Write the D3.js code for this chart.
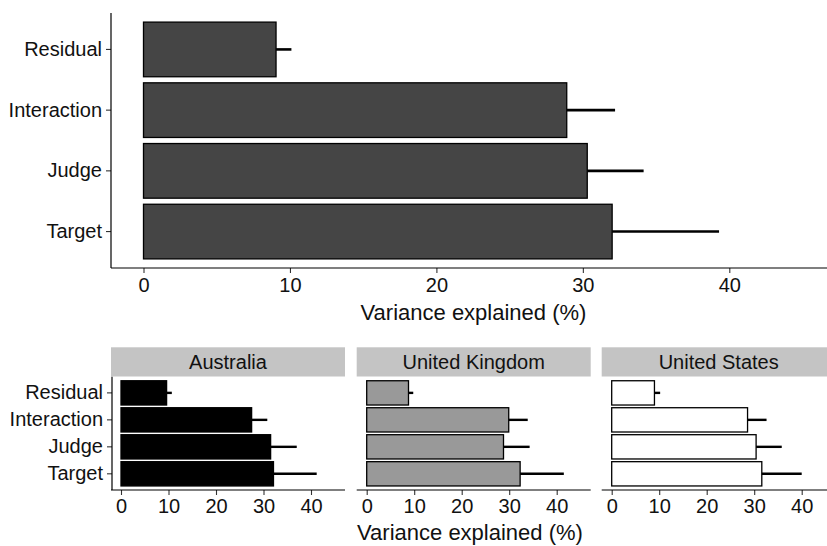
<!DOCTYPE html>
<html>
<head>
<meta charset="utf-8">
<script src="https://cdn.jsdelivr.net/npm/d3@7"></script>
<style>
  body { margin: 0; background: #fff; }
  svg { display: block; font-family: "Liberation Sans", Arial, sans-serif; }
</style>
</head>
<body>
<svg id="chart" width="827" height="546"></svg>
<script>
// ---- data ----
const categories = ["Residual", "Interaction", "Judge", "Target"];
const xTicks = [0, 10, 20, 30, 40];
const axisTitle = "Variance explained (%)";

const overallMean  = [9.05, 28.9, 30.3, 32.0];
const overallUpper = [10.1, 32.2, 34.15, 39.3];

const countries = ["Australia", "United Kingdom", "United States"];
const australiaMean  = [9.6, 27.5, 31.5, 32.1];
const australiaUpper = [10.7, 30.8, 37.0, 41.2];
const ukMean  = [8.8, 29.9, 28.8, 32.3];
const ukUpper = [9.8, 33.9, 34.3, 41.5];
const usMean  = [9.0, 28.6, 30.4, 31.6];
const usUpper = [10.2, 32.6, 35.8, 40.0];

const countryFills = ["#000000", "#999999", "#ffffff"];

// ---- drawing ----
const svg = d3.select("#chart");
const W = 827;
const textCol = "#111111";
const labelSize = 20;

function toRows(means, uppers) {
  return categories.map((c, i) => ({ cat: c, mean: means[i], upper: uppers[i] }));
}

// ===== top panel =====
const mainBox = { left: 111, right: 827, top: 13, bottom: 268 };
const xTop = d3.scaleLinear().domain([0, 40]).range([143.5, 729.3]);
const yTop = d3.scaleBand().domain(categories).range([mainBox.top, mainBox.bottom])
  .paddingInner(0.1).paddingOuter(0.15);

const gTop = svg.append("g");
const topRows = toRows(overallMean, overallUpper);

gTop.selectAll("rect.bar").data(topRows).join("rect")
  .attr("x", xTop(0))
  .attr("y", d => yTop(d.cat))
  .attr("width", d => xTop(d.mean) - xTop(0))
  .attr("height", yTop.bandwidth())
  .attr("fill", "#454545")
  .attr("stroke", "#000").attr("stroke-width", 1.3);

gTop.selectAll("line.err").data(topRows).join("line")
  .attr("x1", d => xTop(d.mean)).attr("x2", d => xTop(d.upper))
  .attr("y1", d => yTop(d.cat) + yTop.bandwidth() / 2)
  .attr("y2", d => yTop(d.cat) + yTop.bandwidth() / 2)
  .attr("stroke", "#000").attr("stroke-width", 2.6);

const xAxisTop = gTop.append("g").attr("transform", `translate(0,${mainBox.bottom})`)
  .call(d3.axisBottom(xTop).tickValues(xTicks).tickSize(5).tickPadding(5));
xAxisTop.select(".domain").remove();
xAxisTop.selectAll("line").attr("stroke", "#333").attr("stroke-width", 1.1);
xAxisTop.selectAll("text").attr("font-size", labelSize).attr("fill", textCol).attr("font-family", null);

gTop.append("line").attr("x1", mainBox.left).attr("x2", mainBox.right)
  .attr("y1", mainBox.bottom).attr("y2", mainBox.bottom).attr("stroke", "#000").attr("stroke-width", 1.2);

const yAxisTop = gTop.append("g").attr("transform", `translate(${mainBox.left},0)`)
  .call(d3.axisLeft(yTop).tickSize(5).tickPadding(4));
yAxisTop.select(".domain").remove();
yAxisTop.selectAll("line").attr("stroke", "#333").attr("stroke-width", 1.1);
yAxisTop.selectAll("text").attr("font-size", labelSize).attr("fill", textCol).attr("font-family", null);

gTop.append("line").attr("x1", mainBox.left).attr("x2", mainBox.left)
  .attr("y1", mainBox.top).attr("y2", mainBox.bottom).attr("stroke", "#000").attr("stroke-width", 1.2);

gTop.append("text").attr("x", 473.5).attr("y", 320).attr("text-anchor", "middle")
  .attr("font-size", 22).attr("fill", textCol).text(axisTitle);

// ===== bottom facets =====
const panelLefts = [111, 356.7, 601.7];
const panelW = 234;
const stripTop = 347.3, stripBottom = 376.5;
const pTop = 376.7, pBottom = 490;
const yBot = d3.scaleBand().domain(categories).range([pTop, pBottom])
  .paddingInner(0.1).paddingOuter(0.15);

const facetData = [
  toRows(australiaMean, australiaUpper),
  toRows(ukMean, ukUpper),
  toRows(usMean, usUpper)
];

countries.forEach((name, k) => {
  const L = panelLefts[k];
  const R = Math.min(L + panelW, W);
  const x = d3.scaleLinear().domain([0, 40]).range([L + 10, L + 10 + 190]);
  const g = svg.append("g");

  g.append("rect").attr("x", L).attr("y", stripTop)
    .attr("width", R - L).attr("height", stripBottom - stripTop)
    .attr("fill", "#c4c4c4");
  g.append("text").attr("x", (L + L + panelW) / 2).attr("y", (stripTop + stripBottom) / 2)
    .attr("dy", "0.35em").attr("text-anchor", "middle")
    .attr("font-size", labelSize).attr("fill", textCol).text(name);

  const rows = facetData[k];
  g.selectAll("rect.bar").data(rows).join("rect")
    .attr("x", x(0))
    .attr("y", d => yBot(d.cat))
    .attr("width", d => x(d.mean) - x(0))
    .attr("height", yBot.bandwidth())
    .attr("fill", countryFills[k])
    .attr("stroke", "#000").attr("stroke-width", 1.3);

  g.selectAll("line.err").data(rows).join("line")
    .attr("x1", d => x(d.mean)).attr("x2", d => x(d.upper))
    .attr("y1", d => yBot(d.cat) + yBot.bandwidth() / 2)
    .attr("y2", d => yBot(d.cat) + yBot.bandwidth() / 2)
    .attr("stroke", "#000").attr("stroke-width", 2.4);

  const xa = g.append("g").attr("transform", `translate(0,${pBottom})`)
    .call(d3.axisBottom(x).tickValues(xTicks).tickSize(5).tickPadding(4));
  xa.select(".domain").remove();
  xa.selectAll("line").attr("stroke", "#333").attr("stroke-width", 1.1);
  xa.selectAll("text").attr("font-size", labelSize).attr("fill", textCol).attr("font-family", null);
  g.append("line").attr("x1", L).attr("x2", R).attr("y1", pBottom).attr("y2", pBottom)
    .attr("stroke", "#000").attr("stroke-width", 1.2);

  if (k === 0) {
    const ya = g.append("g").attr("transform", `translate(${L + 1},0)`)
      .call(d3.axisLeft(yBot).tickSize(5).tickPadding(4));
    ya.select(".domain").remove();
    ya.selectAll("line").attr("stroke", "#333").attr("stroke-width", 1.1);
    ya.selectAll("text").attr("font-size", labelSize).attr("fill", textCol).attr("font-family", null);
    g.append("line").attr("x1", L + 1).attr("x2", L + 1).attr("y1", pTop).attr("y2", pBottom)
      .attr("stroke", "#000").attr("stroke-width", 1.2);
  }
});

svg.append("text").attr("x", 470).attr("y", 540).attr("text-anchor", "middle")
  .attr("font-size", 22).attr("fill", textCol).text(axisTitle);
</script>
</body>
</html>
